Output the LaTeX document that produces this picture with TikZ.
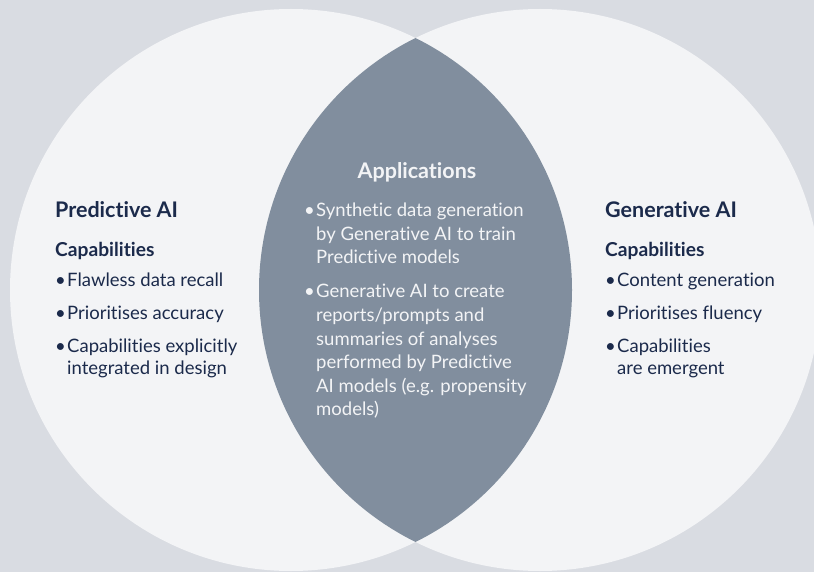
\documentclass[tikz,border=0pt]{standalone}
\usepackage{fontspec}
\setmainfont{Lato}[Ligatures=NoCommon]
\definecolor{bgc}{HTML}{D9DCE2}
\definecolor{circc}{HTML}{F3F4F6}
\definecolor{lensc}{HTML}{818E9E}
\definecolor{navy}{HTML}{1B2A4B}
\definecolor{lighttxt}{HTML}{F3F4F6}
\tikzset{
  title/.style={anchor=base west, inner sep=0pt, font=\fontsize{21.5}{24}\selectfont\bfseries, text=navy},
  sub/.style={anchor=base west, inner sep=0pt, font=\fontsize{19.2}{22}\selectfont\bfseries, text=navy},
  body/.style={anchor=base west, inner sep=0pt, font=\fontsize{18.5}{22}\selectfont, text=navy},
  cbody/.style={anchor=base west, inner sep=0pt, font=\fontsize{18.5}{22}\selectfont, text=lighttxt},
  ctitle/.style={anchor=base, inner sep=0pt, font=\fontsize{21.5}{24}\selectfont\bfseries, text=lighttxt}
}
\begin{document}
\begin{tikzpicture}[x=1pt,y=-1pt]
\useasboundingbox (0,0) rectangle (814,572);
\fill[bgc] (0,0) rectangle (814,572);
\fill[circc] (291,290) circle (281pt);
\fill[circc] (540,290) circle (281pt);
\begin{scope}
\clip (291,290) circle (281pt);
\fill[lensc] (540,290) circle (281pt);
\end{scope}
% left
\node[title] (lt) at (55,218) {Predictive AI};
\node[sub] (lc) at (55,256) {Capabilities};
\node[body] (lb1) at (55,287) {•};
\node[body] (l1) at (67,287) {Flawless data recall};
\node[body] (lb2) at (55,319) {•};
\node[body] (l2) at (67,319) {Prioritises accuracy};
\node[body] (lb3) at (55,352) {•};
\node[body] (l3a) at (67,352) {Capabilities explicitly};
\node[body] (l3b) at (67,374) {integrated in design};
% right
\node[title] (rt) at (605,218) {Generative AI};
\node[sub] (rc) at (605,256) {Capabilities};
\node[body] (rb1) at (605,287) {•};
\node[body] (r1) at (617,287) {Content generation};
\node[body] (rb2) at (605,319) {•};
\node[body] (r2) at (617,319) {Prioritises fluency};
\node[body] (rb3) at (605,352) {•};
\node[body] (r3a) at (617,352) {Capabilities};
\node[body] (r3b) at (617,374) {are emergent};
% center
\node[ctitle] (ct) at (417,179) {Applications};
\node[cbody] (cb1) at (304,217) {•};
\node[cbody] (c1a) at (316,217) {Synthetic data generation};
\node[cbody] (c1b) at (316,240.5) {by Generative AI to train};
\node[cbody] (c1c) at (316,264) {Predictive models};
\node[cbody] (cb2) at (304,298) {•};
\node[cbody] (c2a) at (316,298) {Generative AI to create};
\node[cbody] (c2b) at (316,321.5) {reports/prompts and};
\node[cbody] (c2c) at (316,345) {summaries of analyses};
\node[cbody] (c2d) at (316,368.5) {performed by Predictive};
\node[cbody] (c2e) at (316,392) {AI models (e.g. propensity};
\node[cbody] (c2f) at (316,415.5) {models)};
\end{tikzpicture}
\end{document}
